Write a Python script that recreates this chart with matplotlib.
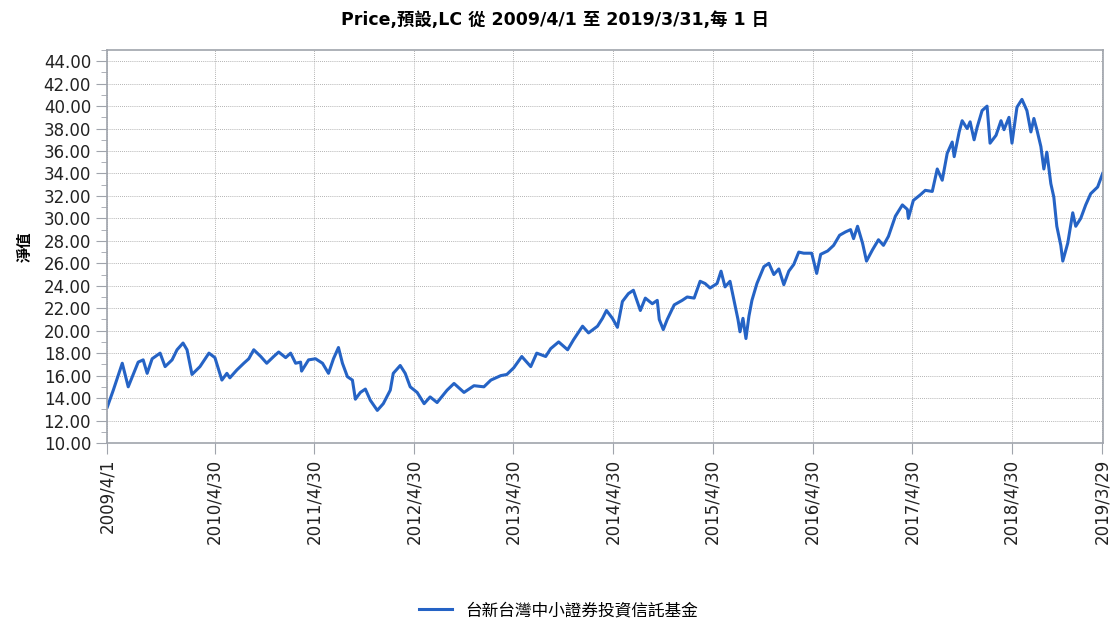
import matplotlib
matplotlib.use("Agg")
import matplotlib.pyplot as plt
from matplotlib.ticker import MultipleLocator, FormatStrFormatter

plt.rcParams['font.family'] = ['DejaVu Sans', 'Noto Sans CJK TC']

# time as decimal year, NAV
years = [
    2009.25, 2009.31, 2009.40, 2009.46, 2009.51, 2009.56, 2009.61, 2009.65, 2009.70, 2009.78,
    2009.83, 2009.90, 2009.95, 2010.01, 2010.05, 2010.10, 2010.18, 2010.27, 2010.33, 2010.40,
    2010.45, 2010.48, 2010.55, 2010.62, 2010.67, 2010.72, 2010.79, 2010.85, 2010.92, 2010.97,
    2011.04, 2011.09, 2011.14, 2011.19, 2011.20, 2011.27, 2011.34, 2011.41, 2011.47, 2011.52,
    2011.57, 2011.61, 2011.66, 2011.71, 2011.74, 2011.79, 2011.84, 2011.89, 2011.96, 2012.02,
    2012.09, 2012.12, 2012.19, 2012.24, 2012.29, 2012.36, 2012.43, 2012.49, 2012.56, 2012.66,
    2012.73, 2012.83, 2012.93, 2013.03, 2013.10, 2013.20, 2013.26, 2013.33, 2013.41, 2013.50,
    2013.56, 2013.65, 2013.70, 2013.78, 2013.87, 2013.93, 2014.02, 2014.08, 2014.17, 2014.22,
    2014.26, 2014.32, 2014.37, 2014.42, 2014.48, 2014.53, 2014.60, 2014.65, 2014.72, 2014.77,
    2014.79, 2014.83, 2014.87, 2014.94, 2015.02, 2015.07, 2015.14, 2015.20, 2015.25, 2015.30,
    2015.37, 2015.41, 2015.45, 2015.50, 2015.54, 2015.58, 2015.60, 2015.63, 2015.66, 2015.69,
    2015.72, 2015.77, 2015.84, 2015.89, 2015.94, 2015.99, 2016.04, 2016.09, 2016.14, 2016.19,
    2016.24, 2016.32, 2016.37, 2016.41, 2016.48, 2016.54, 2016.60, 2016.66, 2016.71, 2016.74,
    2016.78, 2016.83, 2016.87, 2016.93, 2016.99, 2017.04, 2017.09, 2017.16, 2017.23, 2017.28,
    2017.29, 2017.34, 2017.41, 2017.46, 2017.53, 2017.58, 2017.63, 2017.68, 2017.73, 2017.75,
    2017.80, 2017.83, 2017.88, 2017.91, 2017.95, 2017.98, 2018.03, 2018.08, 2018.11, 2018.17,
    2018.22, 2018.25, 2018.30, 2018.33, 2018.38, 2018.43, 2018.48, 2018.52, 2018.55, 2018.58,
    2018.62, 2018.65, 2018.68, 2018.72, 2018.75, 2018.78, 2018.82, 2018.84, 2018.89, 2018.94,
    2018.97, 2019.02, 2019.07, 2019.12, 2019.19, 2019.24,
]
nav = [
    13.2, 14.7, 17.1, 15.0, 16.1, 17.2, 17.4, 16.2, 17.5, 18.0,
    16.8, 17.4, 18.3, 18.9, 18.3, 16.1, 16.8, 18.0, 17.6, 15.6,
    16.2, 15.8, 16.5, 17.1, 17.5, 18.3, 17.7, 17.1, 17.7, 18.1,
    17.6, 18.0, 17.1, 17.2, 16.4, 17.4, 17.5, 17.1, 16.2, 17.5,
    18.5, 17.1, 15.9, 15.6, 13.9, 14.5, 14.8, 13.8, 12.9, 13.5,
    14.7, 16.2, 16.9, 16.2, 15.0, 14.5, 13.5, 14.1, 13.6, 14.7,
    15.3, 14.5, 15.1, 15.0, 15.6, 16.0, 16.1, 16.7, 17.7, 16.8,
    18.0, 17.7, 18.4, 19.0, 18.3, 19.2, 20.4, 19.8, 20.4, 21.1,
    21.8, 21.1, 20.3, 22.6, 23.3, 23.6, 21.8, 22.9, 22.4, 22.7,
    21.0, 20.1, 21.0, 22.3, 22.7, 23.0, 22.9, 24.4, 24.2, 23.8,
    24.2, 25.3, 23.9, 24.4, 22.7, 21.0, 19.9, 21.1, 19.3, 21.3,
    22.7, 24.2, 25.7, 26.0, 25.0, 25.5, 24.1, 25.3, 25.9, 27.0,
    26.9, 26.9, 25.1, 26.8, 27.1, 27.6, 28.5, 28.8, 29.0, 28.2,
    29.3, 27.8, 26.2, 27.2, 28.1, 27.6, 28.4, 30.2, 31.2, 30.8,
    30.0, 31.6, 32.1, 32.5, 32.4, 34.4, 33.4, 35.8, 36.8, 35.5,
    37.7, 38.7, 38.0, 38.6, 37.0, 38.1, 39.6, 40.0, 36.7, 37.4,
    38.7, 37.9, 39.0, 36.7, 39.9, 40.6, 39.6, 37.7, 38.9, 37.9,
    36.4, 34.4, 35.9, 33.1, 31.9, 29.3, 27.6, 26.2, 27.8, 30.5,
    29.3, 30.0, 31.2, 32.2, 32.8, 34.0,
]

tick_pos = [2009.247, 2010.326, 2011.326, 2012.328, 2013.326, 2014.326,
            2015.326, 2016.328, 2017.326, 2018.326, 2019.238]
tick_labels = ["2009/4/1", "2010/4/30", "2011/4/30", "2012/4/30", "2013/4/30",
               "2014/4/30", "2015/4/30", "2016/4/30", "2017/4/30", "2018/4/30",
               "2019/3/29"]

series_name = "台新台灣中小證券投資信託基金"
title = "Price,預設,LC 從 2009/4/1 至 2019/3/31,每 1 日"

fig = plt.figure(figsize=(11.17, 6.31), dpi=100)
ax = fig.add_axes([0.0958, 0.298, 0.8917, 0.6228])

line, = ax.plot(years, nav, color='#2563c5', lw=2.2, label=series_name)

ax.set_xlim(2009.247, 2019.244)
ax.set_ylim(10, 45)
ax.yaxis.set_major_locator(MultipleLocator(2))
ax.yaxis.set_minor_locator(MultipleLocator(1))
ax.yaxis.set_major_formatter(FormatStrFormatter('%.2f'))
ax.set_xticks(tick_pos)
ax.set_xticklabels(tick_labels, rotation=90)

ax.grid(True, which='major', color='#9a9a9a', linestyle=(0, (1, 1.5)), linewidth=0.6)
for s in ax.spines.values():
    s.set_color('#a0a4ac')
    s.set_linewidth(1.2)
ax.tick_params(axis='both', which='major', colors='#a0a4ac', labelcolor='#222222',
               labelsize=12, length=8)
ax.tick_params(axis='y', which='minor', colors='#a0a4ac', length=4)

ax.set_ylabel("淨值", family=['Noto Sans CJK TC'], fontsize=11, fontweight='bold',
              labelpad=8)

fig.text(0.497, 0.968, title, ha='center', va='center', fontsize=12.5,
         fontweight='bold', family=['DejaVu Sans', 'Noto Sans CJK TC'])

fig.legend(handles=[line], loc='lower center', bbox_to_anchor=(0.5, -0.005),
           frameon=False, prop={'family': ['Noto Sans CJK TC'], 'size': 12},
           handlelength=2.0)

fig.savefig("out.png", dpi=100)
